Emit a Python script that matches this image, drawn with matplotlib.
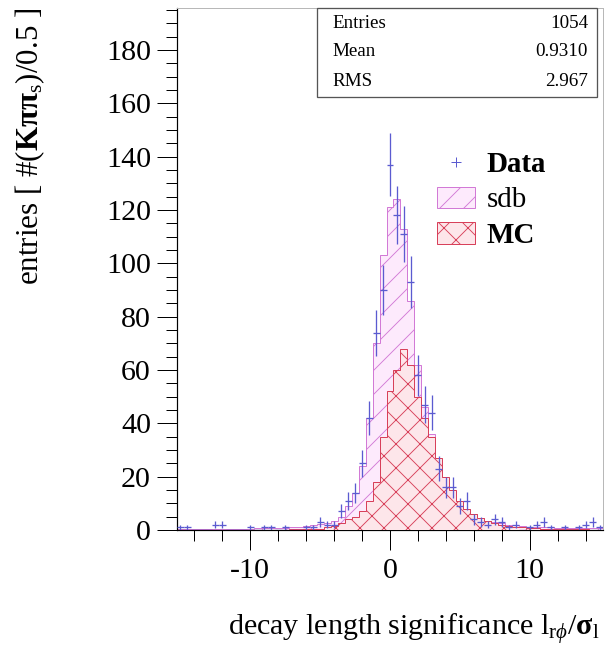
import numpy as np
import matplotlib
matplotlib.use('Agg')
import matplotlib.pyplot as plt
from matplotlib.patches import Patch, Rectangle
from matplotlib.lines import Line2D
from matplotlib.ticker import MultipleLocator

plt.rcParams['font.family'] = ['Liberation Serif', 'DejaVu Serif']
plt.rcParams['mathtext.fontset'] = 'custom'
plt.rcParams['mathtext.rm'] = 'Liberation Serif'
plt.rcParams['mathtext.it'] = 'Liberation Serif:italic'
plt.rcParams['mathtext.bf'] = 'Liberation Serif:bold'
plt.rcParams['axes.unicode_minus'] = False
plt.rcParams['hatch.linewidth'] = 0.9

# bins of width 0.5, centred on multiples of 0.5
bin_edges = np.arange(-15.25, 15.26, 0.5)

data_counts = [1, 1, 0, 0, 0, 2, 2, 0, 0, 0,
               1, 0, 1, 1, 0, 1, 0, 0, 1, 1,
               3, 2, 2, 7, 11, 14, 25, 42, 74, 90,
               137,
               118, 111, 93, 58, 47, 44, 23, 16, 16, 9,
               11, 4, 3, 2, 4, 3, 1, 2, 0, 1,
               2, 3, 1, 0, 1, 0, 1, 2, 3, 1]

sdb_counts = [0.5, 0.4, 0.4, 0.5, 0.4, 0.5, 0.5, 0.4, 0.5, 0.5,
              0.5, 0.6, 0.6, 0.7, 0.8, 0.9, 1.0, 1.2, 1.5, 1.8,
              2.2, 2.8, 3.5, 5, 9, 14, 24, 42, 70, 103,
              121,
              124, 113, 86, 62, 46, 36, 26, 19, 14, 11,
              8, 6, 4.5, 3.5, 3, 2.5, 2, 1.8, 1.5, 1.3,
              1.2, 1.1, 1.0, 0.9, 0.9, 0.8, 0.8, 0.7, 0.7, 0.7]

mc_counts = [0, 0, 0, 0, 0, 0, 0, 0, 0, 0,
             0, 0, 0, 0, 0.1, 0.1, 0.2, 0.2, 0.3, 0.4,
             0.5, 1, 1.5, 2.5, 4, 5, 7, 11, 18, 35,
             52,
             60, 68, 62, 50, 42, 35, 27, 20, 15, 11,
             8, 6, 4.5, 3.5, 2.5, 2, 1.5, 1.2, 1, 0.8,
             0.6, 0.5, 0.4, 0.3, 0.3, 0.2, 0.2, 0.2, 0.1, 0.1]

stats_names = ['Entries', 'Mean', 'RMS']
stats_values = ['1054', '0.9310', '2.967']
legend_labels = ['Data', 'sdb', 'MC']

W, H = 605, 658
fig = plt.figure(figsize=(W / 72, H / 72), dpi=72)
ax = fig.add_axes([177 / W, 1 - 530 / H, (603 - 177) / W, (530 - 8) / H])

centers = 0.5 * (bin_edges[:-1] + bin_edges[1:])
data = np.array(data_counts, dtype=float)

sdb_col = '#d27ad6'
mc_col = '#d8405a'
data_col = '#5b5bd0'

ax.stairs(sdb_counts, bin_edges, fill=True, facecolor='#fdeafc',
          edgecolor=sdb_col, hatch='/', linewidth=1.0, zorder=2)
ax.stairs(mc_counts, bin_edges, fill=True, facecolor='#fde6ea',
          edgecolor=mc_col, hatch='x', linewidth=1.0, zorder=3)
ax.errorbar(centers, data, yerr=np.sqrt(data), xerr=0.25, fmt='none',
            ecolor=data_col, elinewidth=1.3, capsize=0, zorder=4)

ax.set_xlim(-15.25, 15.25)
ax.set_ylim(0, 195.75)
ax.set_xticks([-10, 0, 10])
ax.xaxis.set_minor_locator(MultipleLocator(2))
ax.yaxis.set_major_locator(MultipleLocator(20))
ax.yaxis.set_minor_locator(MultipleLocator(5))
ax.tick_params(axis='both', which='major', direction='out', length=20,
               width=1, labelsize=30, colors='black')
ax.tick_params(axis='both', which='minor', direction='out', length=11, width=1)
ax.tick_params(axis='x', which='major', pad=8)
ax.tick_params(axis='y', which='major', pad=6)
ax.tick_params(top=False, right=False, which='both')
for s in ['top', 'right']:
    ax.spines[s].set_color('#b8b8b8')
    ax.spines[s].set_linewidth(1.0)
for s in ['left', 'bottom']:
    ax.spines[s].set_linewidth(1.2)

fig.text(30 / W, 1 - 8 / H, r'entries [ #($\mathbf{K\pi\pi}_\mathrm{s}$)/0.5 ]',
         rotation=90, ha='center', va='top', fontsize=31)
fig.text(600 / W, 1 - 636 / H,
         r'decay length significance $\mathrm{l}_{\mathrm{r}\phi}/\mathbf{\sigma}_\mathrm{l}$',
         ha='right', va='baseline', fontsize=30)

# stats box
fig.patches.append(Rectangle((317 / W, 1 - 97 / H), 280 / W, 89 / H,
                             transform=fig.transFigure, facecolor='white',
                             edgecolor='#555555', linewidth=1.3, zorder=5))
for i, (name, val) in enumerate(zip(stats_names, stats_values)):
    y = 1 - (23 + 29 * i) / H
    fig.text(332 / W, y, name, ha='left', va='center', fontsize=19, zorder=6)
    fig.text(588 / W, y, val, ha='right', va='center', fontsize=19, zorder=6)

handles = [Line2D([], [], color=data_col, marker='+', linestyle='none',
                  markersize=10, markeredgewidth=1.0),
           Patch(facecolor='#fdeafc', edgecolor=sdb_col, hatch='/'),
           Patch(facecolor='#fde6ea', edgecolor=mc_col, hatch='x')]
leg = ax.legend(handles, legend_labels, loc='upper left',
                bbox_to_anchor=(437 / W, 1 - 151 / H), bbox_transform=fig.transFigure,
                frameon=False, fontsize=29, handlelength=1.3, handleheight=0.75,
                handletextpad=0.4, labelspacing=0.3, borderpad=0, borderaxespad=0)
leg.get_texts()[0].set_fontweight('bold')
leg.get_texts()[2].set_fontweight('bold')

fig.savefig('out.png', dpi=72)
